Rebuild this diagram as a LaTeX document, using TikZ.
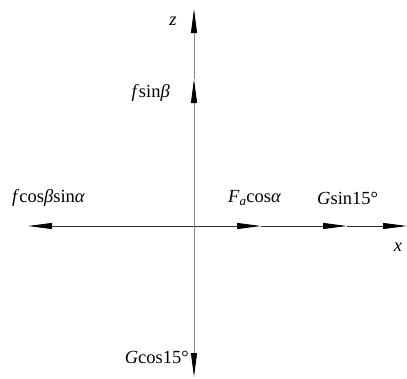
\documentclass[tikz,border=0pt]{standalone}
\usepackage{fontspec}
\setmainfont{Liberation Serif}
\usetikzlibrary{arrows.meta}
\definecolor{axH}{HTML}{333333}
\definecolor{axV}{HTML}{8A8A8A}
\tikzset{
  force/.style ={-{Triangle[length=24pt,width=6pt,color=black,fill=black]},line width=0.9pt},
  hline/.style ={force,draw=axH},
  vline/.style ={force,draw=axV},
  lbl/.style   ={font=\fontsize{18.5}{21}\selectfont,inner sep=0pt},
}
\begin{document}
\begin{tikzpicture}[x=1pt,y=-1pt]
\useasboundingbox (0,0) rectangle (407,378);
% axis points
\coordinate (O)    at (194,226);
\coordinate (fcs)  at (28,226);
\coordinate (Fa)   at (261,226);
\coordinate (Gs)   at (347,226);
\coordinate (xtip) at (407,226);
\coordinate (fsb)  at (194,79);
\coordinate (ztip) at (194,9);
\coordinate (Gc)   at (194,377);

% x direction
\draw[hline] (O) -- (fcs);
\draw[hline] (O) -- (Fa);
\draw[hline] (Fa) -- (Gs);
\draw[hline] (Gs) -- (xtip);
% z direction
\draw[vline] (O) -- (fsb);
\draw[vline] (fsb) -- (ztip);
\draw[vline] (O) -- (Gc);

% labels
\node[lbl] (lz)   at (173,21)  {\textit{z}};
\node[lbl] (lx)   at (398,247) {\textit{x}};
\node[lbl,anchor=east] (lfsb) at (170,93)  {\textit{f}sin\textit{β}};
\node[lbl,anchor=west] (lfcs) at (12,198)  {\textit{f}cos\textit{β}sin\textit{α}};
\node[lbl,anchor=west] (lFa)  at (228,198) {\textit{F\textsubscript{a}}cos\textit{α}};
\node[lbl,anchor=west] (lGs)  at (317,198) {\textit{G}sin15°};
\node[lbl,anchor=east] (lGc)  at (189,357) {\textit{G}cos15°};
\end{tikzpicture}
\end{document}
